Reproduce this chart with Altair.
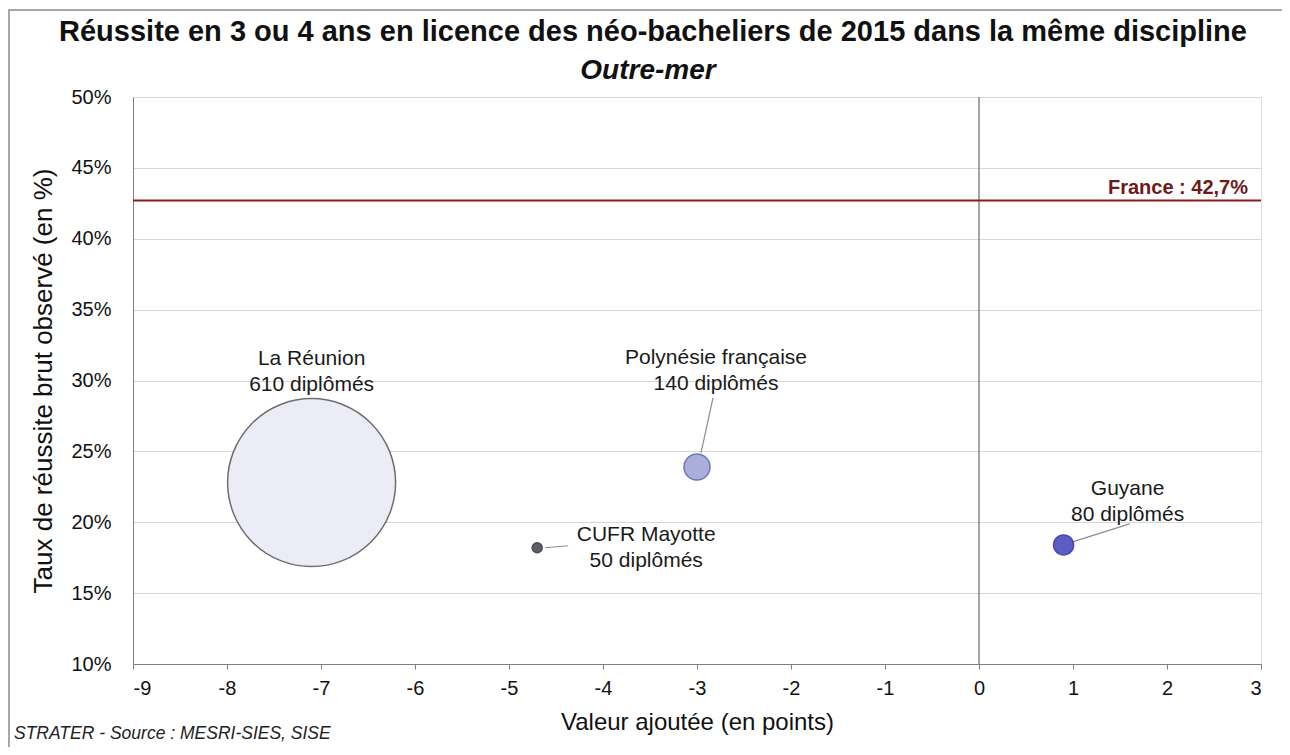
import altair as alt
import pandas as pd

# ---- data ----
regions = ["La Réunion", "Polynésie française", "CUFR Mayotte", "Guyane"]
diplomes = [610, 140, 50, 80]
valeur_ajoutee = [-7.1, -3.0, -4.7, 0.9]
taux_reussite = [22.8, 23.9, 18.2, 18.4]
poids_bulle = [7056, 169, 25, 100]
fill_colors = ["#ECECF6", "#A9AFD8", "#5E5E66", "#5C5CC6"]
stroke_colors = ["#6E6E6E", "#6F77B6", "#4A4A52", "#4A4AAE"]

france_value = 42.7
x_ticks = list(range(-9, 4))
y_ticks = list(range(10, 51, 5))

title_text = "Réussite en 3 ou 4 ans en licence des néo-bacheliers de 2015 dans la même discipline"
subtitle_text = "Outre-mer"
source_text = "STRATER - Source : MESRI-SIES, SISE"

df = pd.DataFrame({
    "region": regions,
    "diplomes": diplomes,
    "va": valeur_ajoutee,
    "taux": taux_reussite,
    "poids": poids_bulle,
    "fill": fill_colors,
    "stroke": stroke_colors,
})
df["label"] = df["region"] + "\n" + df["diplomes"].astype(str) + " diplômés"

FONT = "Liberation Sans"
W, H = 1128, 567

xscale = alt.Scale(domain=[-9, 3], nice=False, zero=False)
yscale = alt.Scale(domain=[10, 50], nice=False, zero=False)

base = alt.Chart(df)
one = pd.DataFrame({"a": [0]})

frame = alt.Chart(one).mark_rect(
    fill=None, stroke="#8a8a8a", strokeWidth=1.5
).encode(
    x=alt.value(-124), x2=alt.value(1200), y=alt.value(-87), y2=alt.value(720)
)

axes = base.mark_point(opacity=0).encode(
    x=alt.X("va:Q", scale=xscale,
            axis=alt.Axis(values=x_ticks, labelExpr="'' + datum.value",
                          title="Valeur ajoutée (en points)", grid=False,
                          tickSize=5, tickColor="#7f7f7f", domainColor="#7f7f7f",
                          labelFontSize=20, labelPadding=9, labelColor="#111111",
                          titleFontSize=24, titleFontWeight="normal", titlePadding=12,
                          titleColor="#111111", labelFont=FONT, titleFont=FONT)),
    y=alt.Y("taux:Q", scale=yscale,
            axis=alt.Axis(values=y_ticks, labelExpr="datum.value + '%'",
                          title="Taux de réussite brut observé (en %)", grid=True,
                          gridColor="#d6d6d6", gridWidth=1.2, ticks=False,
                          domainColor="#7f7f7f", labelFontSize=20, labelPadding=22,
                          labelColor="#111111", titleFontSize=26, titleFontWeight="normal",
                          titlePadding=14, titleColor="#111111", labelFont=FONT, titleFont=FONT)),
)

zero_line = alt.Chart(pd.DataFrame({"x0": [0]})).mark_rule(
    color="#6a6a6a", strokeWidth=1.2
).encode(x=alt.X("x0:Q", scale=xscale))

france_df = pd.DataFrame({"y": [france_value], "x": [3], "txt": ["France : 42,7%"]})
france_line = alt.Chart(france_df).mark_rule(color="#8B1A1A", strokeWidth=2).encode(
    y=alt.Y("y:Q", scale=yscale)
)
france_text = alt.Chart(france_df).mark_text(
    align="right", baseline="bottom", dx=-13, dy=-2, font=FONT, fontSize=20,
    fontWeight="bold", color="#6E1A1A"
).encode(x=alt.X("x:Q", scale=xscale), y=alt.Y("y:Q", scale=yscale), text="txt:N")

bubbles = base.mark_circle(opacity=1, strokeWidth=1.5).encode(
    x=alt.X("va:Q", scale=xscale),
    y=alt.Y("taux:Q", scale=yscale),
    size=alt.Size("poids:Q", scale=alt.Scale(domain=[0, 7056], range=[0, 28224]), legend=None),
    fill=alt.Fill("fill:N", scale=None),
    stroke=alt.Stroke("stroke:N", scale=None),
)

# label offsets (pixels, first line centre) and leader lines per region
label_offsets = {
    "La Réunion": (0, -124),
    "Polynésie française": (19, -109),
    "CUFR Mayotte": (109, -13),
    "Guyane": (64, -56),
}
leaders = {
    "Polynésie française": (4, -14, 16, -69),
    "CUFR Mayotte": (8, 0, 31, -2),
    "Guyane": (9, -3, 66, -21),
}

layers = [frame, axes, zero_line, france_line, france_text]
for reg, (x1, y1, x2, y2) in leaders.items():
    layers.append(
        base.transform_filter(alt.datum.region == reg).mark_rule(
            color="#8a8c9c", strokeWidth=1.2,
            xOffset=x1, yOffset=y1, x2Offset=x2, y2Offset=y2
        ).encode(
            x=alt.X("va:Q", scale=xscale), y=alt.Y("taux:Q", scale=yscale),
            x2="va:Q", y2="taux:Q"
        )
    )
layers.append(bubbles)
for reg, (dx, dy) in label_offsets.items():
    layers.append(
        base.transform_filter(alt.datum.region == reg).mark_text(
            lineBreak="\n", align="center", baseline="middle", dx=dx, dy=dy,
            font=FONT, fontSize=21, color="#1a1a1a", lineHeight=26
        ).encode(x=alt.X("va:Q", scale=xscale), y=alt.Y("taux:Q", scale=yscale), text="label:N")
    )

title = alt.Chart(pd.DataFrame({"t": [title_text]})).mark_text(
    align="center", baseline="alphabetic", font=FONT, fontSize=29, fontWeight="bold",
    color="#111111"
).encode(x=alt.value(520), y=alt.value(-56), text="t:N")
subtitle = alt.Chart(pd.DataFrame({"t": [subtitle_text]})).mark_text(
    align="center", baseline="alphabetic", font=FONT, fontSize=28, fontWeight="bold",
    fontStyle="italic", color="#111111"
).encode(x=alt.value(515), y=alt.value(-18), text="t:N")
source = alt.Chart(pd.DataFrame({"t": [source_text]})).mark_text(
    align="left", baseline="alphabetic", font=FONT, fontSize=17.5, fontStyle="italic",
    color="#222222"
).encode(x=alt.value(-119), y=alt.value(642), text="t:N")
layers += [title, subtitle, source]

chart = alt.layer(*layers).properties(
    width=W, height=H,
    autosize=alt.AutoSizeParams(type="none"),
    padding={"left": 125, "top": 89, "right": 21, "bottom": 83},
).configure_view(stroke="#8c8c8c", strokeWidth=1.5).configure(background="white")

chart.save("out.html", embed_options={"renderer": "svg", "actions": False})
